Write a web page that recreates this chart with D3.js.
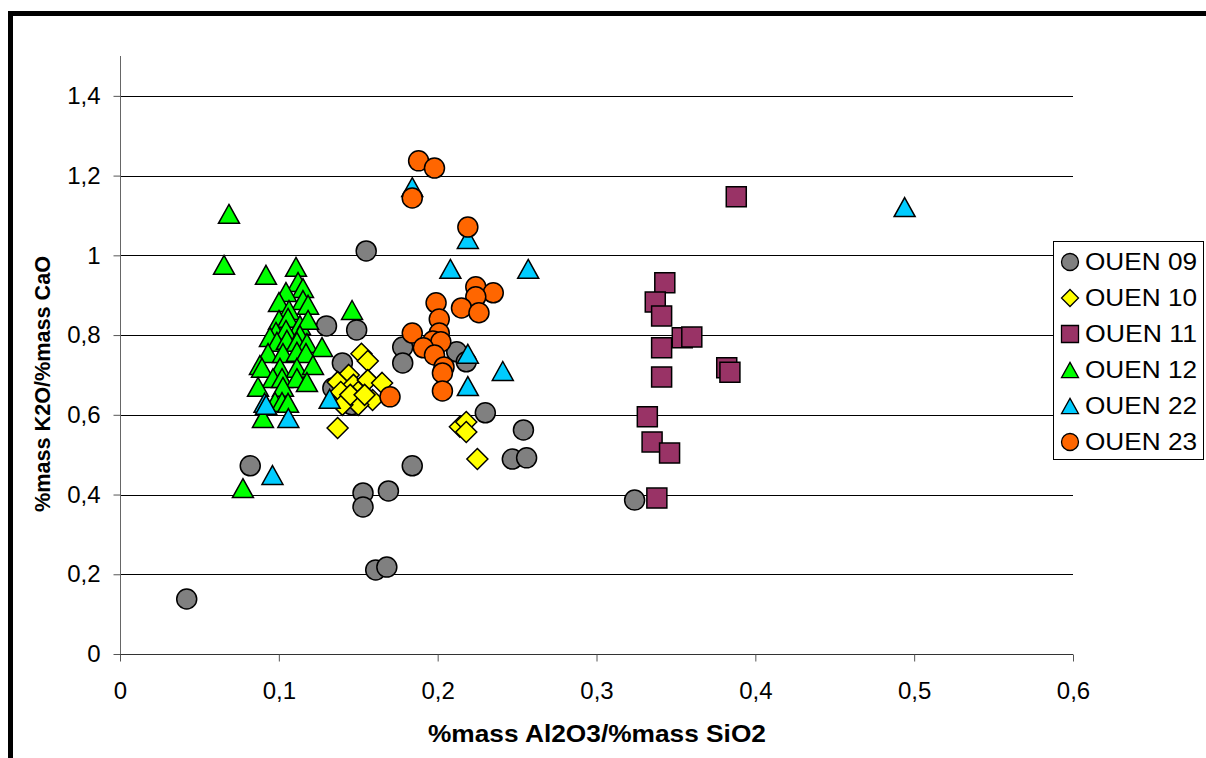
<!DOCTYPE html>
<html><head><meta charset="utf-8">
<script src="https://cdn.jsdelivr.net/npm/d3@7"></script>
<style>body{margin:0;background:#fff}svg{display:block}text{font-family:"Liberation Sans",Arial,sans-serif}</style>
</head><body><svg id="c" width="1206" height="758"></svg>
<script>
const seriesNames = ["OUEN 09","OUEN 10","OUEN 11","OUEN 12","OUEN 22","OUEN 23"];
const xTicks = [0,0.1,0.2,0.3,0.4,0.5,0.6];
const yTicks = [0,0.2,0.4,0.6,0.8,1,1.2,1.4];
const ouen09 = [[0.042,0.138],[0.082,0.472],[0.155,1.011],[0.130,0.823],[0.149,0.813],[0.140,0.730],[0.134,0.667],[0.146,0.625],[0.178,0.770],[0.178,0.730],[0.212,0.758],[0.218,0.733],[0.230,0.605],[0.254,0.562],[0.247,0.489],[0.256,0.492],[0.184,0.472],[0.153,0.404],[0.153,0.369],[0.169,0.409],[0.161,0.211],[0.168,0.218],[0.324,0.386]];
const ouen10 = [[0.152,0.753],[0.156,0.735],[0.144,0.700],[0.137,0.682],[0.147,0.675],[0.156,0.687],[0.165,0.680],[0.139,0.657],[0.150,0.657],[0.159,0.637],[0.150,0.625],[0.140,0.625],[0.137,0.567],[0.214,0.570],[0.218,0.582],[0.218,0.557],[0.225,0.489],[0.145,0.650],[0.154,0.650]];
const ouen11 = [[0.388,1.147],[0.343,0.931],[0.337,0.883],[0.341,0.848],[0.354,0.793],[0.360,0.795],[0.341,0.768],[0.341,0.695],[0.382,0.718],[0.384,0.707],[0.332,0.595],[0.335,0.532],[0.346,0.504],[0.338,0.391]];
const ouen12 = [[0.0686,1.104],[0.0655,0.976],[0.0919,0.951],[0.1108,0.971],[0.1121,0.933],[0.1152,0.918],[0.1045,0.908],[0.1001,0.883],[0.1152,0.888],[0.1184,0.876],[0.1064,0.863],[0.1001,0.838],[0.1058,0.843],[0.1133,0.825],[0.1184,0.838],[0.0982,0.808],[0.1045,0.813],[0.1133,0.800],[0.0944,0.795],[0.0988,0.783],[0.1051,0.788],[0.1114,0.783],[0.1177,0.780],[0.1272,0.770],[0.0932,0.755],[0.1026,0.755],[0.1114,0.758],[0.1171,0.755],[0.0881,0.725],[0.0894,0.718],[0.1007,0.718],[0.1114,0.718],[0.1215,0.725],[0.0963,0.692],[0.1020,0.692],[0.1114,0.692],[0.1177,0.682],[0.1026,0.670],[0.0869,0.670],[0.0976,0.632],[0.1020,0.632],[0.1058,0.630],[0.0900,0.592],[0.0774,0.416],[0.1461,0.863]];
const ouen22 = [[0.494,1.121],[0.184,1.171],[0.219,1.041],[0.208,0.966],[0.257,0.966],[0.219,0.753],[0.241,0.710],[0.219,0.672],[0.132,0.640],[0.091,0.630],[0.092,0.625],[0.106,0.592],[0.096,0.449]];
const ouen23 = [[0.188,1.237],[0.198,1.219],[0.184,1.144],[0.219,1.071],[0.224,0.921],[0.235,0.906],[0.224,0.896],[0.215,0.868],[0.226,0.856],[0.199,0.881],[0.201,0.840],[0.184,0.805],[0.201,0.805],[0.197,0.785],[0.202,0.783],[0.191,0.768],[0.198,0.750],[0.204,0.720],[0.203,0.705],[0.203,0.660],[0.170,0.645]];

const seriesData = [ouen09,ouen10,ouen11,ouen12,ouen22,ouen23];
const shapes = ["circle","diamond","square","triangle","triangle","circle"];
const colors = ["#808080","#FFFF00","#993366","#00FF00","#00CCFF","#FF6600"];

const svg = d3.select("#c");
svg.append("line").attr("x1",10.5).attr("x2",10.5).attr("y1",11).attr("y2",758).attr("stroke","#000").attr("stroke-width",5);
svg.append("line").attr("x1",8).attr("x2",1206).attr("y1",13.5).attr("y2",13.5).attr("stroke","#000").attr("stroke-width",5);

const x = d3.scaleLinear().domain([0,0.6]).range([120,1073]);
const y = d3.scaleLinear().domain([0,1.5]).range([654,56]);
const fmt = d => String(+d.toFixed(1)).replace(".",",");

svg.append("g").selectAll("line").data(yTicks.filter(d=>d>0)).join("line")
  .attr("x1",120).attr("x2",1073).attr("y1",d=>Math.round(y(d))+0.5).attr("y2",d=>Math.round(y(d))+0.5)
  .attr("stroke","#000").attr("stroke-width",1);

const yAxis = svg.append("g").attr("transform","translate(120.5,0)")
  .call(d3.axisLeft(y).tickValues(yTicks).tickFormat(fmt).tickSize(7).tickPadding(13));
const xAxis = svg.append("g").attr("transform","translate(0,654.5)")
  .call(d3.axisBottom(x).tickValues(xTicks).tickFormat(fmt).tickSize(7).tickPadding(20));
[yAxis,xAxis].forEach(a=>{
  a.select(".domain").attr("stroke","#666").attr("stroke-width",1);
  a.selectAll(".tick line").attr("stroke","#555");
  a.selectAll("text").attr("font-size",24).attr("fill","#000").attr("font-family","'Liberation Sans',Arial,sans-serif");
});
yAxis.select(".domain").attr("d","M0,56V654");
xAxis.select(".domain").attr("d","M120,0H1073").attr("stroke","#333");

svg.append("text").attr("x",597).attr("y",742).attr("text-anchor","middle")
  .attr("font-size",24).attr("font-weight","bold")
  .attr("textLength",338).attr("lengthAdjust","spacingAndGlyphs").text("%mass Al2O3/%mass SiO2");
svg.append("text").attr("transform","translate(50,384) rotate(-90)").attr("text-anchor","middle")
  .attr("font-size",22).attr("font-weight","bold")
  .attr("textLength",256).attr("lengthAdjust","spacingAndGlyphs").text("%mass K2O/%mass CaO");

function shapePath(shape, s){
  const h = s/2;
  if(shape==="circle") return d3.arc()({innerRadius:0,outerRadius:h,startAngle:0,endAngle:2*Math.PI});
  if(shape==="square") return `M${-h},${-h}H${h}V${h}H${-h}Z`;
  if(shape==="diamond") return `M0,${-h}L${h},0L0,${h}L${-h},0Z`;
  if(shape==="triangle") { const th = s*0.9/2; return `M0,${-th}L${h},${th}L${-h},${th}Z`; }
}
const sizes = {circle:20, diamond:21, square:20, triangle:21};

seriesData.forEach((data,i)=>{
  const sh = shapes[i];
  svg.append("g").selectAll("path").data(data).join("path")
    .attr("transform",d=>`translate(${x(d[0])},${y(d[1])})`)
    .attr("d",shapePath(sh,sizes[sh]))
    .attr("fill",colors[i]).attr("stroke","#000").attr("stroke-width",1.5);
});

const lg = svg.append("g");
lg.append("rect").attr("x",1053.5).attr("y",241.5).attr("width",150).attr("height",218)
  .attr("fill","#fff").attr("stroke","#000").attr("stroke-width",1);
seriesNames.forEach((n,i)=>{
  const cy = 262 + i*36;
  const sh = shapes[i];
  lg.append("path").attr("transform",`translate(1070,${cy})`).attr("d",shapePath(sh,17))
    .attr("fill",colors[i]).attr("stroke","#000").attr("stroke-width",1.3);
  lg.append("text").attr("x",1085).attr("y",cy+7.5).attr("font-size",23)
    .attr("textLength",112).attr("lengthAdjust","spacingAndGlyphs").text(n);
});
</script></body></html>
